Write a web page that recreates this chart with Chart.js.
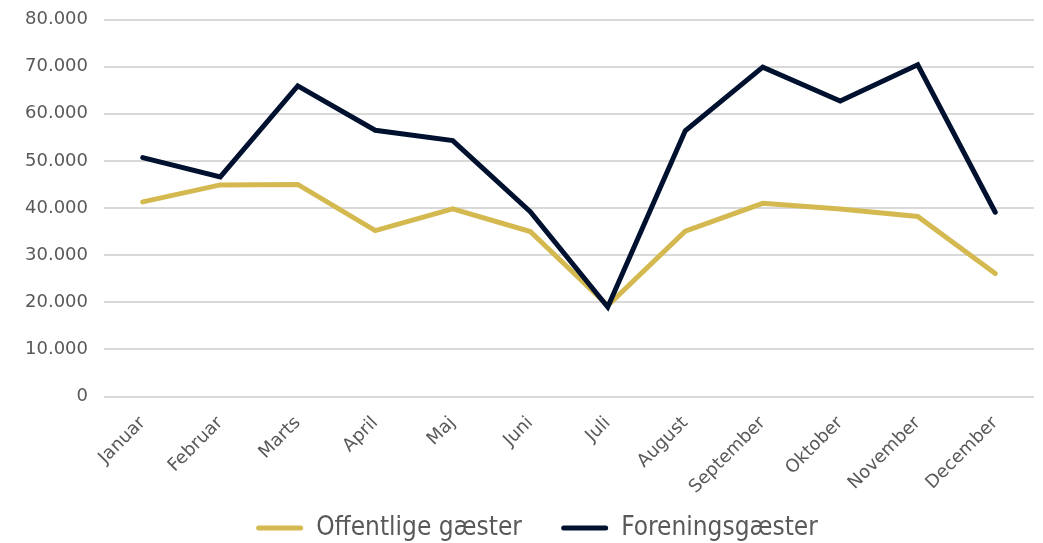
<!DOCTYPE html>
<html>
<head>
<meta charset="utf-8">
<script src="https://cdn.jsdelivr.net/npm/chart.js@4/dist/chart.umd.min.js"></script>
<style>
html,body{margin:0;padding:0;background:#fff;}
#wrap{width:1043px;height:543px;position:relative;}
</style>
</head>
<body>
<div id="wrap"><canvas id="c" width="1043" height="543"></canvas></div>
<script>
const months = ["Januar","Februar","Marts","April","Maj","Juni","Juli","August","September","Oktober","November","December"];
const offentlige = [41300, 44900, 45000, 35200, 39800, 35000, 19300, 35100, 41000, 39800, 38200, 26100];
const forening = [50700, 46600, 65900, 56500, 54300, 39200, 19000, 56400, 69900, 62700, 70400, 39100];
const seriesNames = ["Offentlige gæster", "Foreningsgæster"];
const seriesColors = ["#d4b951", "#00112f"];

function fmt(v){ return String(v).replace(/\B(?=(\d{3})+(?!\d))/g, "."); }

const legendShift = {
  id: 'legendShift',
  afterLayout(chart) {
    const lg = chart.legend;
    if (lg) { lg.left += 15; lg.right += 15; }
  }
};

new Chart(document.getElementById('c'), {
  type: 'line',
  data: {
    labels: months,
    datasets: [
      { label: seriesNames[0], data: offentlige, borderColor: seriesColors[0], backgroundColor: seriesColors[0],
        borderWidth: 5, pointRadius: 0, tension: 0, borderCapStyle: 'round', borderJoinStyle: 'miter', order: 1 },
      { label: seriesNames[1], data: forening, borderColor: seriesColors[1], backgroundColor: seriesColors[1],
        borderWidth: 5, pointRadius: 0, tension: 0, borderCapStyle: 'round', borderJoinStyle: 'miter', order: 0 }
    ]
  },
  plugins: [legendShift],
  options: {
    responsive: false,
    animation: false,
    layout: { padding: { top: 19.5, right: 9, left: 10, bottom: -8 } },
    plugins: {
      tooltip: { enabled: false },
      legend: {
        position: 'bottom',
        labels: {
          boxWidth: 47,
          boxHeight: 5,
          useBorderRadius: true,
          borderRadius: 2.5,
          color: '#595959',
          padding: 10,
          font: { family: "'Liberation Sans Narrow', 'DejaVu Sans Condensed', sans-serif", size: 26 },
          sort: (a, b) => a.datasetIndex - b.datasetIndex,
          generateLabels: (chart) => chart.data.datasets.map((ds, i) => ({
            text: i === 0 ? ds.label + '\u2003\u2005' : ds.label,
            fillStyle: ds.borderColor, strokeStyle: ds.borderColor, lineWidth: 0,
            fontColor: '#595959', datasetIndex: i, hidden: false, borderRadius: 2.5
          }))
        }
      }
    },
    scales: {
      x: {
        offset: true,
        grid: { display: false },
        border: { display: false },
        afterFit: (s) => { s.height = 108.5; },
        ticks: {
          color: '#595959', maxRotation: 45, minRotation: 45, padding: 8,
          font: { family: "'DejaVu Sans', sans-serif", size: 18 }
        }
      },
      y: {
        min: 0, max: 80000,
        grid: { color: '#d9d9d9', lineWidth: 2, drawTicks: false },
        border: { display: false },
        afterFit: (s) => { s.width = 94; s.paddingTop = 10; },
        ticks: {
          stepSize: 10000, color: '#595959', padding: 16,
          font: { family: "'DejaVu Sans', sans-serif", size: 18 },
          callback: (v) => fmt(v)
        }
      }
    }
  }
});
</script>
</body>
</html>
